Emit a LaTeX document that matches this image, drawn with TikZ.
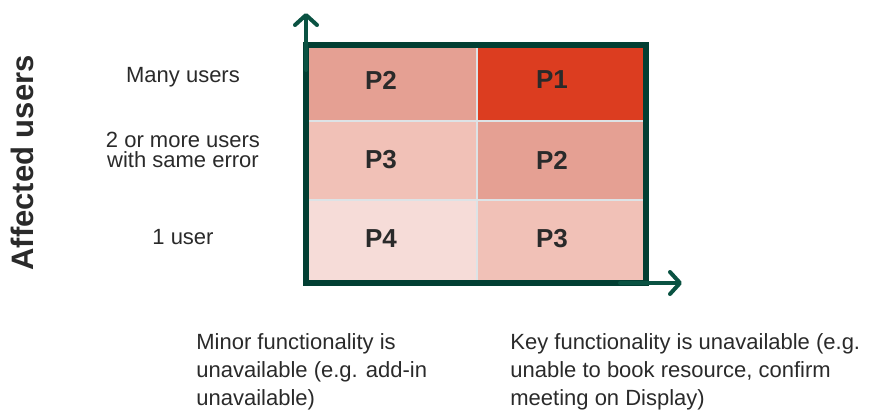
\documentclass[tikz,border=0pt]{standalone}
\usepackage{fontspec}
\setmainfont{Liberation Sans}
\usetikzlibrary{arrows.meta, positioning}
\definecolor{framegreen}{HTML}{023F33}
\definecolor{axisgreen}{HTML}{0A5242}
\definecolor{pone}{HTML}{DC3D20}
\definecolor{ptwo}{HTML}{E5A093}
\definecolor{pthree}{HTML}{F1C1B7}
\definecolor{pfour}{HTML}{F6DCD8}
\definecolor{ink}{HTML}{2A2A2A}
\definecolor{rule}{HTML}{DDE3E6}

\begin{document}
\begin{tikzpicture}[x=0.5pt, y=-0.5pt,
    prio/.style={font=\fontsize{13}{13}\selectfont\bfseries, text=ink},
    rowlab/.style={font=\fontsize{11}{10}\selectfont, align=center, text=ink},
    collab/.style={font=\fontsize{11}{14}\selectfont, align=left, text=ink, anchor=north west, inner sep=0pt},
    divider/.style={draw=rule, line width=0.6pt},
    axis/.style={draw=axisgreen, line width=2pt, line cap=round, -{Straight Barb[length=5pt, width=11pt, round]}}
]
    \useasboundingbox (0,0) rectangle (870,414);

    % matrix cells
    \fill[ptwo]   (309,47)  rectangle (477,121);
    \fill[pone]   (477,47)  rectangle (643,121);
    \fill[pthree] (309,121) rectangle (477,200);
    \fill[ptwo]   (477,121) rectangle (643,200);
    \fill[pfour]  (309,200) rectangle (477,280);
    \fill[pthree] (477,200) rectangle (643,280);
    \draw[divider] (477,47) -- (477,280);
    \draw[divider] (309,121) -- (643,121) (309,200) -- (643,200);

    % frame and axes
    \draw[framegreen, line width=3pt] (306,44.5) rectangle (645.5,283);
    \coordinate (yfoot) at (306,70);
    \coordinate (ytip) at (306,13);
    \coordinate (xfoot) at (620,283);
    \coordinate (xtip) at (682,283);
    \draw[axis] (yfoot) -- (ytip);
    \draw[axis] (xfoot) -- (xtip);

    % priorities
    \node[prio] (p2a) at (381,80) {P2};
    \node[prio] (p1)  at (552,80) {P1};
    \node[prio] (p3a) at (381,160) {P3};
    \node[prio] (p2b) at (552,160) {P2};
    \node[prio] (p4)  at (381,239) {P4};
    \node[prio] (p3b) at (552,239) {P3};

    % affected users
    \node[rotate=90, font=\fontsize{15.5}{15.5}\selectfont\bfseries, text=ink] (affected) at (22,163) {Affected users};
    \node[rowlab] (many) at (183,77) {Many users};
    \node[rowlab] (some) at (183,150) {2 or more users\\with same error};
    \node[rowlab] (one)  at (183,237) {1 user};

    % impact
    \node[collab] (minor) at (196,333) {Minor functionality is\\unavailable (e.g. add-in\\unavailable)};
    \node[collab] (key)   at (510,333) {Key functionality is unavailable (e.g.\\unable to book resource, confirm\\meeting on Display)};
\end{tikzpicture}
\end{document}
